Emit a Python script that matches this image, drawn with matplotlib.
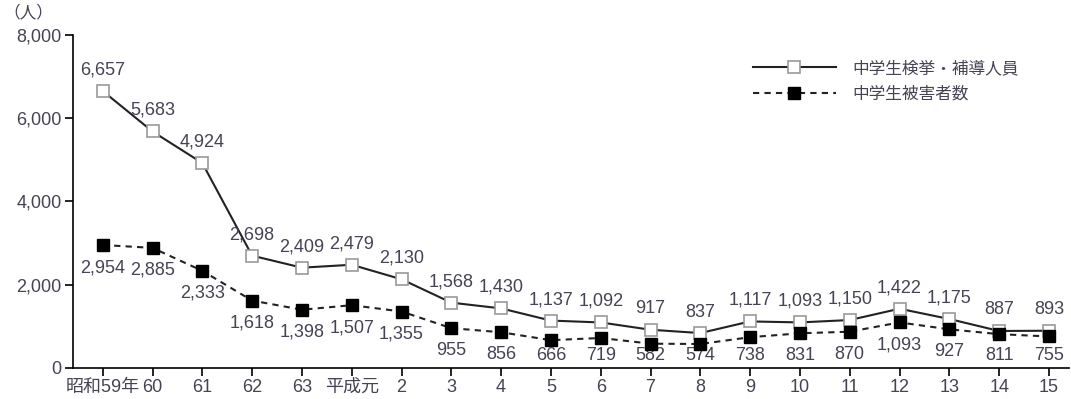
import numpy as np
import matplotlib.pyplot as plt

plt.rcParams['font.family'] = ['Liberation Sans', 'Noto Sans CJK JP']

# データ
years = ['昭和59年', '60', '61', '62', '63', '平成元', '2', '3', '4', '5',
         '6', '7', '8', '9', '10', '11', '12', '13', '14', '15']
kenkyo = [6657, 5683, 4924, 2698, 2409, 2479, 2130, 1568, 1430, 1137,
          1092, 917, 837, 1117, 1093, 1150, 1422, 1175, 887, 893]
higai = [2954, 2885, 2333, 1618, 1398, 1507, 1355, 955, 856, 666,
         719, 582, 574, 738, 831, 870, 1093, 927, 811, 755]

txt_col = '#444454'
x = np.arange(len(years))

fig = plt.figure(figsize=(10.71, 3.99), dpi=100)
ax = fig.add_axes([0.068, 0.078, 0.93, 0.834])

ax.plot(x, kenkyo, '-', color='#222222', lw=1.5, marker='s', ms=8.5,
        mfc='white', mec='#999999', mew=1.2, label='中学生検挙・補導人員', zorder=3)
ax.plot(x, higai, '--', color='#222222', lw=1.5, dashes=(3, 2.5), marker='s', ms=8.5,
        mfc='black', mec='black', label='中学生被害者数', zorder=4)

ax.set_xlim(-0.6, 19.4)
ax.set_ylim(0, 8000)

# 上の系列は点の上、下の系列は点の下（軸に重ならないよう下限あり）
for xi, v in zip(x, kenkyo):
    ax.annotate(f'{v:,}', (xi, v), xytext=(0, 9), textcoords='offset points',
                ha='center', va='bottom', fontsize=13, color=txt_col)
px_per_unit = ax.bbox.height / 8000
for xi, v in zip(x, higai):
    off_px = min(14, v * px_per_unit - 21)
    ax.annotate(f'{v:,}', (xi, v), xytext=(0, -off_px * 72 / fig.dpi),
                textcoords='offset points',
                ha='center', va='top', fontsize=13, color=txt_col)

ax.set_yticks([0, 2000, 4000, 6000, 8000])
ax.set_yticklabels(['0', '2,000', '4,000', '6,000', '8,000'])
ax.set_xticks(x)
ax.set_xticklabels(years)
ax.tick_params(axis='both', labelsize=13, labelcolor=txt_col, length=6, width=1.2)
ax.tick_params(axis='x', pad=2)
ax.tick_params(axis='y', pad=2)
for s in ['top', 'right']:
    ax.spines[s].set_visible(False)
for s in ['left', 'bottom']:
    ax.spines[s].set_linewidth(1.2)

ax.text(-0.02, 1.045, '（人）', transform=ax.transAxes, ha='right', va='bottom',
        fontsize=12, color=txt_col)

ax.legend(loc='upper right', bbox_to_anchor=(0.965, 0.97), frameon=False,
          handlelength=5, fontsize=12, labelcolor=txt_col, handletextpad=1.0,
          labelspacing=0.6)

plt.savefig('out.png', dpi=100)
